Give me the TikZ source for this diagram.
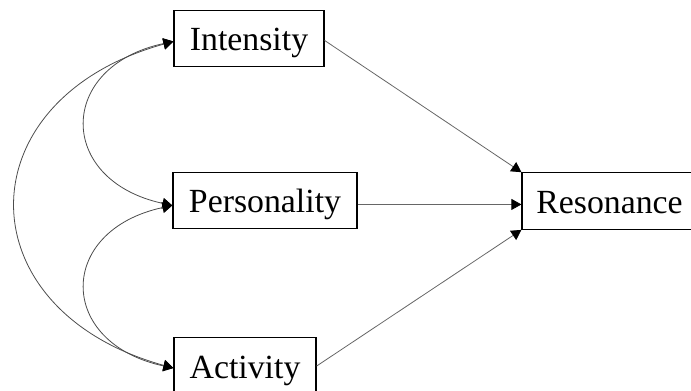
\documentclass[tikz,border=0pt]{standalone}
\usepackage{fontspec}
\setmainfont{Liberation Serif}
\usetikzlibrary{arrows.meta}
\begin{document}
\begin{tikzpicture}[x=1pt,y=1pt,
  varbox/.style={draw=black,line width=1.2pt,anchor=base,inner sep=0pt,
    text height=40.5pt,text depth=16pt,font=\fontsize{33.8}{40}\selectfont},
  path/.style={draw=black!60,line width=0.8pt,-{Triangle[length=10pt,width=11pt,color=black,fill=black]}},
  cov/.style={draw=black!70,line width=0.8pt,{Triangle[length=10pt,width=11pt,color=black,fill=black]}-{Triangle[length=10pt,width=11pt,color=black,fill=black]}}
]
\useasboundingbox (0,0) rectangle (691,391);
\node[varbox,minimum width=150pt] (I) at (249,340.3) {Intensity};
\node[varbox,minimum width=184pt] (P) at (265,178.3) {Personality};
\node[varbox,minimum width=142pt] (A) at (245,12.7) {Activity};
\node[varbox,minimum width=175pt] (R) at (609.5,177.7) {Resonance};
% regression paths
\coordinate (Pe) at ([yshift=-4pt]P.east);
\draw[path] ([yshift=-2pt]I.east) -- (R.north west);
\draw[path] (Pe) -- (R.west |- Pe);
\draw[path] (A.east) -- (R.south west);
% covariances
\coordinate (It) at ([yshift=-3pt]I.west);
\coordinate (Pt) at ([yshift=-5pt]P.west);
\coordinate (At) at ([yshift=-2pt]A.west);
\draw[cov] (It) .. controls +(-117,-25) and +(-116,25) .. (Pt);
\draw[cov] (Pt) .. controls +(-116,-25) and +(-117,25) .. (At);
\draw[cov] (It) .. controls +(-210,-58) and +(-210,58) .. (At);
\end{tikzpicture}
\end{document}
